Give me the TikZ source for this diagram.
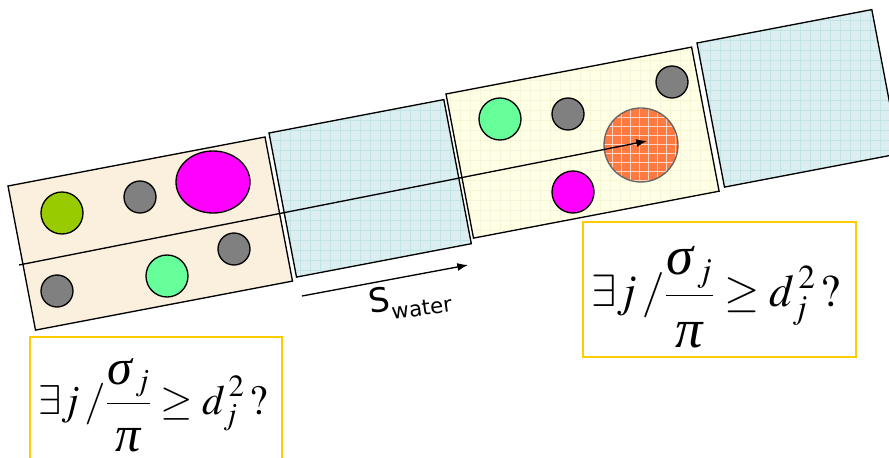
\documentclass[tikz,border=0pt]{standalone}
\usepackage{mathptmx}
\usepackage[no-math]{fontspec}
\newfontfamily\labelfont{DejaVu Sans}
\newfontfamily\greekit{Liberation Serif}
\usetikzlibrary{arrows.meta}
\definecolor{sandfill}{RGB}{251,239,221}
\definecolor{waterfill}{RGB}{221,238,241}
\definecolor{watergrid}{RGB}{193,228,231}
\definecolor{cellfill}{RGB}{255,255,230}
\definecolor{cellgrid}{RGB}{246,246,214}
\definecolor{olivedot}{RGB}{153,204,0}
\definecolor{mintdot}{RGB}{102,255,153}
\definecolor{pinkdot}{RGB}{255,0,255}
\definecolor{hitdot}{RGB}{255,122,64}
\definecolor{askframe}{RGB}{255,204,0}
\tikzset{
  cellline/.style={draw=black, line width=1pt},
  graydot/.style={fill=gray, draw=black, line width=1pt},
  askbox/.style={draw=askframe, line width=1pt},
  asktext/.style={inner sep=0pt},
}
\newcommand{\bigit}[1]{\mbox{\fontsize{41}{46}\selectfont\greekit\itshape #1}}
\newcommand{\askformula}{\fontsize{34}{40}\selectfont
  $\displaystyle \exists j\,/\frac{\bigit{σ}_{\,j}\rule[-11pt]{0pt}{0pt}}{\rule{0pt}{34pt}\bigit{π}}\geq d_{j}^{\,2}\,?$}

\begin{document}
\begin{tikzpicture}[x=0.75pt,y=-0.75pt]
\useasboundingbox (0,0) rectangle (889,457);
% sand cell
\fill[sandfill] (8,186) -- ++(257,-49) -- ++(27.5,144.1) -- ++(-257,49) -- cycle;
\draw[cellline] (8,186) -- ++(257,-49) -- ++(27.5,144.1) -- ++(-257,49) -- cycle;
% first water cell
\begin{scope}
\clip (269,133) -- ++(174.8,-33.4) -- ++(27.5,144.1) -- ++(-174.8,33.4) -- cycle;
\fill[waterfill] (0,0) rectangle (889,457);
\draw[watergrid, line width=0.4pt, step=7.5pt] (0,457) grid (889,0);
\end{scope}
\draw[cellline] (269,133) -- ++(174.8,-33.4) -- ++(27.5,144.1) -- ++(-174.8,33.4) -- cycle;
% cell with the hit
\begin{scope}
\clip (446,94) -- ++(245.6,-46.9) -- ++(27.5,144.1) -- ++(-245.6,46.9) -- cycle;
\fill[cellfill] (0,0) rectangle (889,457);
\draw[cellgrid, line width=0.4pt, step=7.5pt] (0,457) grid (889,0);
\end{scope}
\draw[cellline] (446,94) -- ++(245.6,-46.9) -- ++(27.5,144.1) -- ++(-245.6,46.9) -- cycle;
% second water cell
\begin{scope}
\clip (697,43) -- ++(174.8,-33.4) -- ++(27.5,144.1) -- ++(-174.8,33.4) -- cycle;
\fill[waterfill] (0,0) rectangle (889,457);
\draw[watergrid, line width=0.4pt, step=7.5pt] (0,457) grid (889,0);
\end{scope}
\draw[cellline] (697,43) -- ++(174.8,-33.4) -- ++(27.5,144.1) -- ++(-174.8,33.4) -- cycle;

% particles in the sand cell
\filldraw[fill=olivedot, draw=black, line width=1pt] (62,213) circle (21);
\filldraw[graydot] (140,197) circle (16);
\filldraw[fill=pinkdot, draw=black, line width=1pt] (213,182) ellipse [x radius=37, y radius=31];
\filldraw[graydot] (234,249) circle (16);
\filldraw[fill=mintdot, draw=black, line width=1pt] (167,276) circle (21);
\filldraw[graydot] (57,291) circle (16);

% particles in the last cell
\filldraw[fill=mintdot, draw=black, line width=1pt] (500,119) circle (21);
\filldraw[graydot] (568,114) circle (16);
\filldraw[graydot] (672,82) circle (16);
\filldraw[fill=pinkdot, draw=black, line width=1pt] (573,192) circle (21);
\begin{scope}
\clip (641,145) circle (37);
\fill[hitdot] (641,145) circle (37);
\draw[white!70!hitdot, line width=0.5pt, step=6.75pt] (600,190) grid (690,100);
\end{scope}
\draw[black!60, line width=1pt] (641,145) circle (37);

% path of the particle
\coordinate (pathstart) at (19,265);
\coordinate (pathend) at (647,141);
\draw[line width=1pt, -{Latex[length=8pt,width=6pt]}] (pathstart) -- (pathend);

% water displacement
\coordinate (flowstart) at (302,296);
\coordinate (flowend) at (468,265);
\draw[line width=1pt, -{Latex[length=8pt,width=6pt]}] (flowstart) -- (flowend);
\node[rotate=8, inner sep=0pt] (swater) at (410,300)
  {\labelfont\fontsize{25}{28}\selectfont S\raisebox{-7pt}{\fontsize{16}{18}\selectfont water}};

% test boxes
\draw[askbox] (30,337) rectangle (282,475);
\draw[askbox] (583,222) rectangle (856,357);
\node[asktext, scale=0.92] (askleft) at (153,405) {\askformula};
\node[asktext] (askright) at (716,297) {\askformula};
\end{tikzpicture}
\end{document}
